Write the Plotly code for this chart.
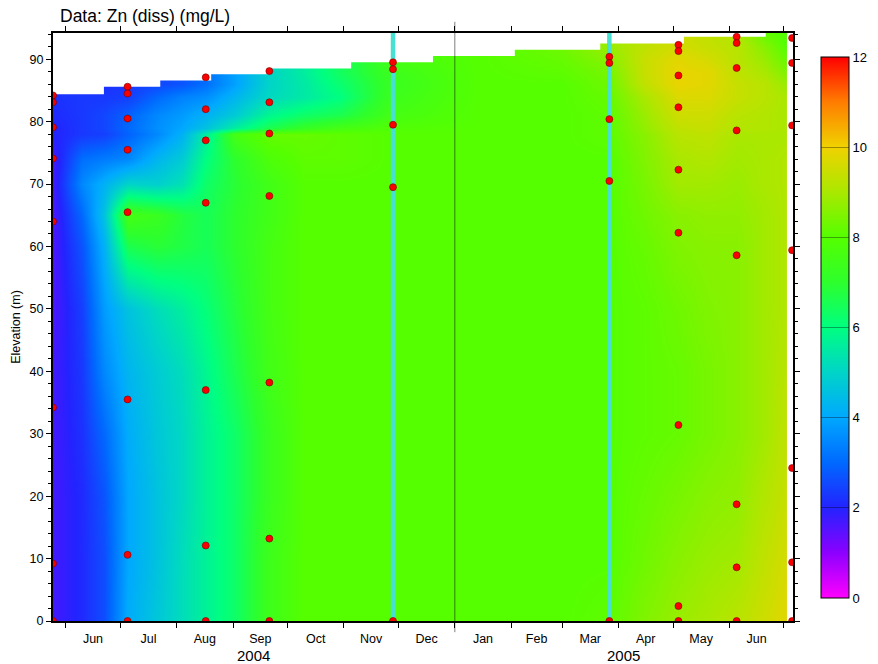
import plotly.graph_objects as go
import datetime as _dt

# ---------------- data ----------------
title_text = "Data: Zn (diss) (mg/L)"
y_title = "Elevation (m)"
x_range = ["2004-05-25", "2005-07-06"]
y_range = [0, 94.2]
year_break = "2005-01-01"
year_labels = ["2004", "2005"]

# interpolation grid (dates x elevations)
grid_dates = ["2004-05-25", "2004-06-10", "2004-06-22", "2004-07-05", "2004-07-21",
              "2004-08-04", "2004-08-17", "2004-09-02", "2004-09-21", "2004-10-10",
              "2004-10-30", "2004-11-28", "2005-01-15", "2005-03-01", "2005-03-27",
              "2005-04-15", "2005-05-04", "2005-05-20", "2005-06-05", "2005-06-20",
              "2005-07-02"]
grid_elev = [0, 10, 20, 30, 40, 50, 60, 65, 70, 74, 78, 79, 81, 84, 86, 88, 90, 92, 94, 96]
zn_e0 = [1.7, 2.1, 2.6, 4.1, 4.7, 5.2, 5.7, 6.3, 7.4, 8.0, 8.0, 8.0, 8.0, 8.0, 8.1, 8.5, 8.8, 9.0, 9.2, 9.5, 9.8]
zn_e10 = [1.7, 2.1, 2.6, 4.0, 4.6, 5.2, 5.7, 6.3, 7.4, 8.0, 8.0, 8.0, 8.0, 8.0, 8.0, 8.3, 8.6, 8.8, 8.9, 9.3, 9.6]
zn_e20 = [1.7, 2.1, 2.7, 4.0, 4.6, 5.1, 5.7, 6.3, 7.3, 8.0, 8.0, 8.0, 8.0, 8.0, 8.0, 8.2, 8.4, 8.6, 8.7, 9.1, 9.4]
zn_e30 = [1.7, 2.2, 3.0, 4.1, 4.7, 5.1, 5.7, 6.3, 7.3, 8.0, 8.0, 8.0, 8.0, 8.0, 8.0, 8.1, 8.2, 8.4, 8.6, 8.9, 9.3]
zn_e40 = [1.7, 2.3, 3.5, 4.3, 4.8, 5.2, 5.8, 6.6, 7.5, 8.0, 8.0, 8.0, 8.0, 8.0, 8.0, 8.1, 8.2, 8.4, 8.6, 8.9, 9.2]
zn_e50 = [1.6, 2.4, 3.8, 4.6, 5.2, 5.6, 6.1, 6.8, 7.6, 8.0, 8.0, 8.0, 8.0, 8.0, 8.0, 8.1, 8.3, 8.5, 8.6, 8.9, 9.1]
zn_e60 = [1.6, 2.7, 4.2, 6.6, 6.9, 6.7, 6.5, 7.0, 7.6, 8.0, 8.0, 8.0, 8.0, 8.0, 8.0, 8.2, 8.5, 8.6, 8.6, 8.9, 9.1]
zn_e65 = [1.6, 3.0, 4.6, 7.6, 7.3, 6.8, 6.5, 7.0, 7.5, 8.0, 8.0, 8.0, 8.0, 8.0, 8.0, 8.3, 8.6, 8.7, 8.7, 8.9, 9.1]
zn_e70 = [1.7, 3.5, 4.2, 5.0, 4.9, 5.3, 6.3, 6.9, 7.5, 8.0, 8.0, 8.0, 8.0, 8.0, 8.0, 8.4, 8.9, 8.9, 8.8, 9.0, 9.1]
zn_e74 = [1.7, 3.1, 3.3, 3.5, 4.3, 4.8, 6.0, 7.0, 7.8, 8.1, 8.1, 8.0, 8.0, 8.0, 8.0, 8.5, 9.0, 9.1, 8.9, 9.0, 9.1]
zn_e78 = [2.0, 2.3, 2.4, 2.9, 3.5, 4.2, 5.6, 7.6, 8.2, 8.2, 8.1, 8.0, 8.0, 8.0, 8.1, 8.6, 9.2, 9.3, 9.0, 9.0, 9.0]
zn_e79 = [2.0, 2.3, 2.5, 3.0, 3.6, 4.0, 4.6, 5.6, 6.6, 7.2, 7.6, 7.9, 8.0, 8.0, 8.1, 8.7, 9.3, 9.4, 9.1, 9.1, 9.0]
zn_e81 = [2.1, 2.3, 2.5, 2.9, 3.5, 3.8, 4.2, 4.8, 5.8, 6.3, 6.6, 7.6, 8.0, 8.0, 8.1, 8.8, 9.5, 9.5, 9.2, 9.1, 9.0]
zn_e84 = [2.2, 2.3, 2.3, 2.4, 3.0, 3.4, 3.6, 4.3, 5.1, 5.5, 6.0, 7.4, 8.0, 8.0, 8.2, 9.0, 9.7, 9.7, 9.4, 9.2, 9.0]
zn_e86 = [2.2, 2.2, 2.2, 2.3, 2.5, 2.7, 3.1, 3.9, 5.0, 5.5, 6.2, 7.3, 8.0, 8.0, 8.3, 9.3, 9.9, 9.8, 9.4, 9.2, 8.8]
zn_e88 = [2.3, 2.3, 2.3, 2.3, 2.5, 2.7, 3.1, 3.9, 5.0, 5.6, 6.4, 7.4, 8.0, 8.1, 8.4, 9.4, 9.9, 9.8, 9.3, 9.0, 8.5]
zn_e90 = [2.3, 2.3, 2.3, 2.3, 2.5, 2.7, 3.1, 3.9, 5.0, 5.6, 6.4, 7.6, 8.0, 8.2, 8.6, 9.4, 9.8, 9.6, 9.2, 8.8, 8.2]
zn_e92 = [2.3, 2.3, 2.3, 2.3, 2.5, 2.7, 3.1, 3.9, 5.0, 5.6, 6.4, 7.6, 8.0, 8.3, 8.8, 9.3, 9.6, 9.4, 9.2, 8.6, 8.0]
zn_e94 = [2.3, 2.3, 2.3, 2.3, 2.5, 2.7, 3.1, 3.9, 5.0, 5.6, 6.4, 7.6, 8.0, 8.3, 8.8, 9.2, 9.5, 9.3, 9.1, 8.2, 7.9]
zn_e96 = [2.3, 2.3, 2.3, 2.3, 2.5, 2.7, 3.1, 3.9, 5.0, 5.6, 6.4, 7.6, 8.0, 8.3, 8.8, 9.2, 9.5, 9.3, 9.1, 8.2, 7.9]
zn_grid = [zn_e0, zn_e10, zn_e20, zn_e30, zn_e40, zn_e50, zn_e60, zn_e65, zn_e70, zn_e74,
           zn_e78, zn_e79, zn_e81, zn_e84, zn_e86, zn_e88, zn_e90, zn_e92, zn_e94, zn_e96]

# water surface (top of the interpolated field), stepwise
surface_start = ["2004-05-25", "2004-06-22", "2004-07-23", "2004-08-20", "2004-09-21",
                 "2004-11-05", "2004-12-20", "2005-02-03", "2005-03-22", "2005-05-07",
                 "2005-06-21"]
surface_elev = [84.4, 85.6, 86.6, 87.6, 88.5, 89.5, 90.5, 91.5, 92.5, 93.6, 95.0]
field_end = "2005-07-02T16:00"

# sampling profiles (red dots)
sample_dates = ["2004-05-25", "2004-07-05", "2004-08-17", "2004-09-21", "2004-11-28",
                "2005-03-27", "2005-05-04", "2005-06-05", "2005-07-05T12:00"]
sample_elevs = [
    [84.2, 83.1, 79.1, 74.1, 64.0, 34.2, 9.2, 0],
    [85.6, 84.5, 80.5, 75.5, 65.5, 35.5, 10.6, 0],
    [87.1, 82.0, 77.0, 67.0, 37.0, 12.1, 0],
    [88.1, 83.1, 78.1, 68.1, 38.2, 13.2, 0],
    [89.5, 88.4, 79.5, 69.5, 0],
    [90.4, 89.4, 80.4, 70.5, 0],
    [92.3, 91.3, 87.4, 82.3, 72.3, 62.2, 31.4, 2.4, 0],
    [93.6, 92.6, 88.6, 78.6, 58.6, 18.7, 8.6, 0],
    [93.4, 89.4, 79.4, 59.4, 24.5, 9.4, 0],
]
highlight_dates = ["2004-11-28", "2005-03-27"]

cbar_ticks = [0, 2, 4, 6, 8, 10, 12]

# ---------------- figure ----------------
FONT = "Liberation Sans, Arial, Helvetica, sans-serif"
rainbow = [
    [0 / 12, "rgb(255,0,255)"],
    [1 / 12, "rgb(140,0,255)"],
    [2 / 12, "rgb(35,35,255)"],
    [3 / 12, "rgb(0,105,255)"],
    [4 / 12, "rgb(0,168,255)"],
    [5 / 12, "rgb(0,212,200)"],
    [6 / 12, "rgb(0,255,128)"],
    [7 / 12, "rgb(45,255,45)"],
    [8 / 12, "rgb(85,255,0)"],
    [9 / 12, "rgb(170,232,0)"],
    [10 / 12, "rgb(240,210,0)"],
    [11 / 12, "rgb(255,125,0)"],
    [12 / 12, "rgb(255,0,0)"],
]

fig = go.Figure()

fig.add_trace(go.Heatmap(
    x=grid_dates, y=grid_elev, z=zn_grid,
    zmin=cbar_ticks[0], zmax=cbar_ticks[-1], zsmooth="best",
    colorscale=rainbow, hoverinfo="skip",
    colorbar=dict(
        x=1.0378, xanchor="left", xpad=0,
        y=0.499, yanchor="middle", ypad=0,
        len=541, lenmode="pixels", thickness=28,
        outlinewidth=1, outlinecolor="black",
        tickvals=cbar_ticks, ticks="inside", ticklen=28,
        tickcolor="rgba(0,0,0,0.35)", tickwidth=1,
        tickfont=dict(family=FONT, size=13, color="black"),
    ),
))

# white mask above the water surface and after the end of the field
poly_x, poly_y = [], []
for i, (d, e) in enumerate(zip(surface_start, surface_elev)):
    end = surface_start[i + 1] if i + 1 < len(surface_start) else field_end
    poly_x += [d, end]
    poly_y += [e, e]
pad_left, pad_right = "2004-05-01", "2005-08-01"
lo, hi = y_range[0] - 5, y_range[1] + 5
poly_x += [field_end, pad_right, pad_right, pad_left, pad_left]
poly_y += [lo, lo, hi, hi, surface_elev[0]]
fig.add_trace(go.Scatter(
    x=poly_x, y=poly_y, mode="lines", fill="toself",
    fillcolor="white", line=dict(width=0), hoverinfo="skip", showlegend=False,
))

# highlighted dates (cyan bars)
hx, hy = [], []
for d in highlight_dates:
    hx += [d, d, None]
    hy += [y_range[0] - 5, y_range[1] + 5, None]
fig.add_trace(go.Scatter(
    x=hx, y=hy, mode="lines", line=dict(color="rgb(72,224,208)", width=4.5),
    hoverinfo="skip", showlegend=False,
))

# sample points
sx, sy = [], []
for d, elevs in zip(sample_dates, sample_elevs):
    for e in elevs:
        sx.append(d)
        sy.append(e)
fig.add_trace(go.Scatter(
    x=sx, y=sy, mode="markers",
    marker=dict(size=7, color="rgb(250,0,0)", line=dict(width=0.6, color="rgb(120,0,0)")),
    showlegend=False, cliponaxis=True,
))

# year labels centred on each year's visible span
def _d(s):
    return _dt.datetime.fromisoformat(s)
spans = [(_d(x_range[0]), _d(year_break)), (_d(year_break), _d(x_range[1]))]
for lab, (a, b) in zip(year_labels, spans):
    mid = a + (b - a) / 2
    fig.add_annotation(
        x=mid.isoformat(), xref="x", y=-0.0595, yref="paper",
        text=lab, showarrow=False, yanchor="middle",
        font=dict(family=FONT, size=15, color="black"),
    )

fig.add_shape(
    type="line", xref="x", yref="paper", x0=year_break, x1=year_break,
    y0=-0.019, y1=1.019, line=dict(color="rgba(0,0,0,0.5)", width=1), layer="above",
)

axis_common = dict(
    showline=True, linewidth=2, linecolor="black", mirror="allticks",
    ticks="outside", tickcolor="black", showgrid=False, zeroline=False,
    tickfont=dict(family=FONT, size=12.5, color="black"),
)
fig.update_xaxes(
    type="date", range=x_range, dtick="M1", tick0="2004-06-01",
    tickformat="%b", ticklabelmode="period", ticklen=5, tickwidth=1,
    automargin=False, **axis_common,
)
fig.update_yaxes(
    range=y_range, dtick=10, tick0=0, ticklen=5, tickwidth=1,
    minor=dict(dtick=2, ticklen=3, ticks="outside", tickcolor="black", tickwidth=1),
    title=dict(text=y_title, font=dict(family=FONT, size=12.5, color="black"), standoff=6),
    automargin=False, **axis_common,
)

fig.update_layout(
    width=878, height=664,
    margin=dict(l=53, r=85, t=33, b=43, autoexpand=False),
    paper_bgcolor="white", plot_bgcolor="white",
    font=dict(family=FONT, color="black"),
    title=dict(text=title_text, x=60 / 878, xanchor="left", xref="container",
               y=1 - 16 / 664, yanchor="middle", yref="container",
               font=dict(family=FONT, size=17.5, color="black")),
    showlegend=False,
)

fig.write_html("out.html")
